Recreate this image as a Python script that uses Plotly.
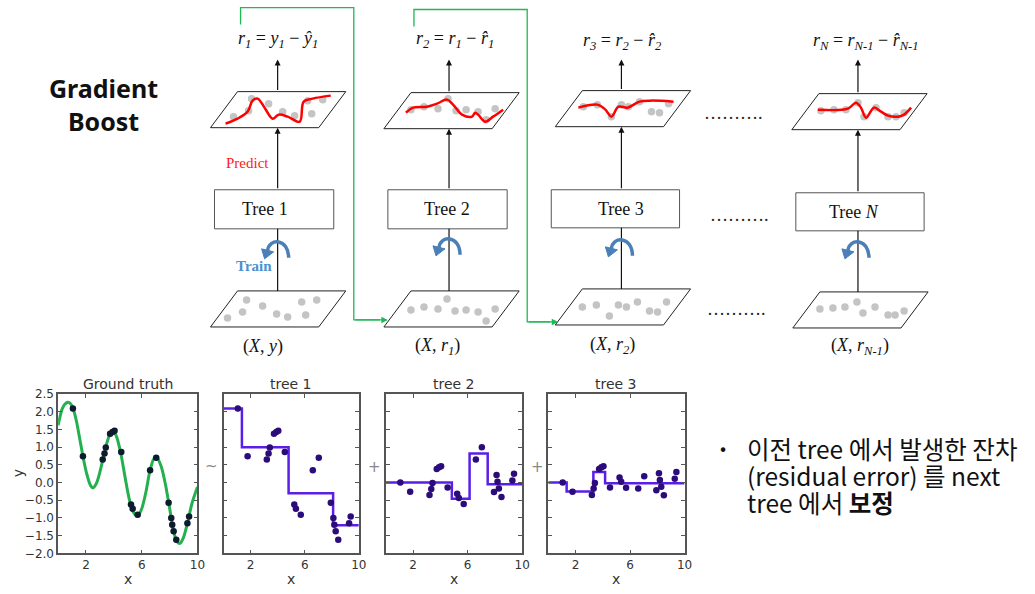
import plotly.graph_objects as go

W, H = 1035, 594

# ================= bottom panels: data =================
panel_titles = ["Ground truth", "tree 1", "tree 2", "tree 3"]
x_tick_vals = [2, 6, 10]
y_tick_vals = [-2.0, -1.5, -1.0, -0.5, 0.0, 0.5, 1.0, 1.5, 2.0, 2.5]
y_tick_text = ["\u22122.0", "\u22121.5", "\u22121.0", "\u22120.5", "0.0", "0.5", "1.0", "1.5", "2.0", "2.5"]

gt_curve_x = [0, 0.3, 0.55, 0.8, 1.05, 1.3, 1.55, 1.8, 2.05, 2.3, 2.5, 2.75, 3.0, 3.25, 3.5, 3.75,
              3.95, 4.2, 4.5, 4.8, 5.1, 5.4, 5.7, 6.0, 6.3, 6.6, 6.9, 7.1, 7.4, 7.7, 8.0, 8.3, 8.55,
              8.75, 9.0, 9.3, 9.6, 10]
gt_curve_y = [1.62, 2.09, 2.24, 2.26, 2.12, 1.76, 1.24, 0.70, 0.25, -0.06, -0.15, -0.02, 0.30, 0.72,
              1.12, 1.40, 1.48, 1.29, 0.82, 0.16, -0.46, -0.84, -0.95, -0.74, -0.27, 0.35, 0.69, 0.70,
              0.45, -0.05, -0.72, -1.40, -1.68, -1.72, -1.55, -1.12, -0.60, -0.13]

sample_x = [1.06, 1.78, 3.2, 3.33, 3.42, 3.73, 3.9, 4.05, 4.53, 5.23, 5.35, 5.71, 6.6, 7.04, 7.93,
            8.12, 8.19, 8.29, 8.48, 9.28, 9.4]
sample_y = [2.09, 0.74, 0.65, 0.82, 0.99, 1.38, 1.43, 1.46, 0.86, -0.62, -0.74, -0.91, 0.35, 0.70,
            -0.57, -1.0, -1.19, -1.38, -1.62, -1.15, -0.96]
resid1_y = [0.0, -0.26, -0.35, -0.18, -0.01, 0.38, 0.43, 0.46, -0.14, -0.32, -0.44, -0.61, 0.65, 1.0,
            -0.27, 0.21, 0.02, -0.17, -0.41, 0.06, 0.25]
resid2_y = [0.0, -0.26, -0.35, -0.17, -0.01, 0.38, 0.43, 0.46, -0.14, 0.14, 0.02, -0.15, -0.17, 0.18,
            -0.22, 0.26, 0.07, -0.12, -0.36, 0.11, 0.30]

tree1_edges = [0, 1.36, 4.81, 8.1, 10]
tree1_levels = [2.09, 1.0, -0.3, -1.21]
tree2_edges = [0, 4.84, 6.14, 7.47, 10]
tree2_levels = [0.0, -0.46, 0.82, -0.05]
tree3_edges = [0, 1.35, 3.31, 4.17, 10]
tree3_levels = [0.0, -0.25, 0.30, -0.02]

# ================= top diagram: data (pixel space) =================
column_x = [278, 449, 621, 857]
formula_text = [
    "<i>r<sub>1</sub></i> = <i>y<sub>1</sub></i> \u2212 <i>\u0177<sub>1</sub></i>",
    "<i>r<sub>2</sub></i> = <i>r<sub>1</sub></i> \u2212 <i>r\u0302<sub>1</sub></i>",
    "<i>r<sub>3</sub></i> = <i>r<sub>2</sub></i> \u2212 <i>r\u0302<sub>2</sub></i>",
    "<i>r<sub>N</sub></i> = <i>r<sub>N-1</sub></i> \u2212 <i>r\u0302<sub>N-1</sub></i>",
]
formula_x = [278, 455, 622, 865]
formula_y = [40, 40, 42, 42]
tree_text = ["Tree 1", "Tree 2", "Tree 3", "Tree <i>N</i>"]
tree_text_x = [265, 447, 621, 853]
tree_box_left = [215, 388, 551, 795]
tree_box_right = [334, 507, 679, 923]
tree_box_top = [190, 190, 190, 193]
tree_box_bottom = [229, 229, 228, 231]
input_text = ["(<i>X</i>, <i>y</i>)", "(<i>X</i>, <i>r<sub>1</sub></i>)",
              "(<i>X</i>, <i>r<sub>2</sub></i>)", "(<i>X</i>, <i>r<sub>N-1</sub></i>)"]
input_x = [263, 437, 612, 859]
input_y = [346, 346, 345, 346]
arrow_top_y = 60

plane_w, plane_skew, plane_h = 108, 27, 36
top_plane_left = [238, 411, 582, 818]
top_plane_y = [92, 93, 91, 94]
bottom_plane_left = [238, 411, 582, 819]
bottom_plane_y = [291, 291, 289, 292]

top_dots_x = [[234, 249, 252, 269, 283, 295, 308, 312, 323],
              [411, 424, 438, 448, 456, 466, 478, 486, 495],
              [583, 597, 611, 621, 628, 639, 651, 659, 668],
              [820, 833, 845, 857, 863, 875, 887, 895, 903]]
top_dots_y = [[117, 111, 99, 104, 112, 116, 101, 114, 100],
              [110, 107, 109, 99, 111, 110, 112, 120, 109],
              [107, 105, 117, 105, 107, 102, 112, 113, 104],
              [111, 110, 110, 103, 117, 108, 117, 117, 113]]
red_x = [[226, 238, 248, 253, 258, 265, 273, 279, 288, 300, 304, 313, 331],
         [406, 413, 427, 437, 447, 453, 462, 472, 475, 478, 485, 493, 503],
         [578, 597, 605, 611, 618, 627, 639, 650, 673],
         [817, 847, 855, 860, 865, 873, 880, 887, 897, 903, 910]]
red_y = [[124, 119, 112, 101, 99, 108, 119, 115, 117, 122, 102, 99, 96],
         [113, 108, 107, 104, 100, 105, 115, 117, 113, 115, 122, 117, 110],
         [108, 105, 110, 117, 107, 108, 102, 101, 102],
         [110, 109, 103, 108, 118, 108, 112, 116, 117, 115, 108]]
bottom_dots_x = [[228, 243, 247, 263, 277, 288, 302, 306, 317],
                 [411, 424, 438, 447, 455, 466, 478, 486, 495],
                 [582, 596, 609, 618, 626, 637, 649, 657, 666],
                 [819, 832, 844, 856, 862, 874, 887, 894, 903]]
bottom_dots_y = [[318, 312, 300, 306, 314, 317, 302, 315, 300],
                 [310, 307, 309, 299, 311, 310, 312, 321, 309],
                 [307, 305, 316, 305, 307, 302, 311, 312, 302],
                 [309, 308, 307, 302, 313, 307, 315, 315, 311]]
train_arrow_y = [250, 247, 248, 250]

green_path_x = [[241, 241, 354, 354, 380], [414, 414, 527, 527, 550]]
green_path_y = [[25, 8, 8, 320, 320], [27, 10, 10, 322, 322]]
green_tip_x = [388, 558]

ellipsis_x = [733, 739, 736]
ellipsis_y = [113, 215, 309]

bullet_lines = ["이전 tree 에서 발생한 잔차", "(residual error) 를 next", "tree 에서 <b>보정</b>"]
bullet_line_y = [448, 475, 502]

sub_domains_px = [(59, 198), (224, 359), (386, 522), (548, 684)]
sub_top_px, sub_bottom_px = 394, 553

# observed mapping of the rendered page: picture = scale * figure + offset
CAL_AX, CAL_BX = 0.99, 1.0
CAL_AY, CAL_BY = 0.975, 7.5


def paper_x(p):
    return ((p - CAL_BX) / CAL_AX) / W


def paper_y(p):
    return 1 - ((p - CAL_BY) / CAL_AY) / H


# ================= build figure =================
fig = go.Figure()

PX = dict(xaxis="x5", yaxis="y5")
dark_dot = "#0d1b2e"
tree_dot = "#2b0c7a"
step_color = "#5a1ee8"
green = "#24b04f"

fig.add_trace(go.Scatter(x=gt_curve_x, y=gt_curve_y, mode="lines",
                         line=dict(color=green, width=3, shape="spline", smoothing=0.8),
                         xaxis="x", yaxis="y", hoverinfo="skip"))
fig.add_trace(go.Scatter(x=sample_x, y=sample_y, mode="markers", marker=dict(color=dark_dot, size=6.5),
                         xaxis="x", yaxis="y", hoverinfo="skip"))

for edges, levels, pts, ax in [(tree1_edges, tree1_levels, sample_y, "2"),
                               (tree2_edges, tree2_levels, resid1_y, "3"),
                               (tree3_edges, tree3_levels, resid2_y, "4")]:
    fig.add_trace(go.Scatter(x=edges, y=levels + [levels[-1]], mode="lines",
                             line=dict(color=step_color, width=2.5, shape="hv"),
                             xaxis="x" + ax, yaxis="y" + ax, hoverinfo="skip"))
    fig.add_trace(go.Scatter(x=sample_x, y=pts, mode="markers", marker=dict(color=tree_dot, size=6.5),
                             xaxis="x" + ax, yaxis="y" + ax, hoverinfo="skip"))

axis_common = dict(showline=True, linecolor="#555", linewidth=1.5, mirror="ticks", ticks="inside",
                   ticklen=4, tickcolor="#555", showgrid=False, zeroline=False, fixedrange=True,
                   tickfont=dict(family="DejaVu Sans", size=12, color="#333"))
layout_axes = {}
for i, (l, r) in enumerate(sub_domains_px):
    n = "" if i == 0 else str(i + 1)
    layout_axes["xaxis" + n] = dict(axis_common, domain=[paper_x(l), paper_x(r)], range=[0, 10],
                                    tickvals=x_tick_vals, anchor="y" + n)
    layout_axes["yaxis" + n] = dict(axis_common, domain=[paper_y(sub_bottom_px), paper_y(sub_top_px)],
                                    range=[-2.0, 2.5], tickvals=y_tick_vals, ticktext=y_tick_text,
                                    showticklabels=(i == 0), anchor="x" + n)
layout_axes["xaxis5"] = dict(domain=[0, 1], range=[CAL_BX, CAL_BX + CAL_AX * W], visible=False,
                             fixedrange=True, anchor="y5")
layout_axes["yaxis5"] = dict(domain=[0, 1], range=[CAL_BY + CAL_AY * H, CAL_BY], visible=False,
                             fixedrange=True, anchor="x5")

for c in range(4):
    for left, ty, dx, dy in [(top_plane_left[c], top_plane_y[c], top_dots_x[c], top_dots_y[c]),
                             (bottom_plane_left[c], bottom_plane_y[c], bottom_dots_x[c], bottom_dots_y[c])]:
        px_ = [left, left + plane_w, left + plane_w - plane_skew, left - plane_skew, left]
        py_ = [ty, ty, ty + plane_h, ty + plane_h, ty]
        fig.add_trace(go.Scatter(x=px_, y=py_, mode="lines", fill="toself", fillcolor="white",
                                 line=dict(color="#222", width=1), hoverinfo="skip", **PX))
        fig.add_trace(go.Scatter(x=dx, y=dy, mode="markers", marker=dict(color="#c4c4c4", size=7.5),
                                 hoverinfo="skip", **PX))
    fig.add_trace(go.Scatter(x=red_x[c], y=red_y[c], mode="lines",
                             line=dict(color="#ff0000", width=2.5, shape="spline"), hoverinfo="skip", **PX))

for gx, gy in zip(green_path_x, green_path_y):
    fig.add_trace(go.Scatter(x=gx, y=gy, mode="lines", line=dict(color="#1db954", width=1.3),
                             hoverinfo="skip", **PX))

shapes = []
annotations = []


def arrow(x0, y0, x1, y1, color="#111", width=1.2, size=1.0):
    annotations.append(dict(x=x1, y=y1, ax=x0, ay=y0, xref="x5", yref="y5", axref="x5", ayref="y5",
                            text="", showarrow=True, arrowhead=2, arrowsize=size, arrowwidth=width,
                            arrowcolor=color))


def label(x, y, text, size=16, color="#111", family="Liberation Serif", **kw):
    annotations.append(dict(x=x, y=y, xref="x5", yref="y5", text=text, showarrow=False,
                            font=dict(family=family, size=size, color=color), **kw))


for c in range(4):
    cx = column_x[c]
    shapes.append(dict(type="rect", xref="x5", yref="y5", x0=tree_box_left[c], x1=tree_box_right[c],
                       y0=tree_box_top[c], y1=tree_box_bottom[c], line=dict(color="#555", width=1),
                       fillcolor="white", layer="above"))
    label(tree_text_x[c], (tree_box_top[c] + tree_box_bottom[c]) / 2, tree_text[c], size=18)
    shapes.append(dict(type="line", xref="x5", yref="y5", x0=cx, x1=cx, y0=bottom_plane_y[c],
                       y1=tree_box_bottom[c], line=dict(color="#111", width=1.2)))
    arrow(cx, tree_box_top[c], cx, top_plane_y[c] + plane_h)
    arrow(cx, top_plane_y[c], cx, arrow_top_y)
    label(formula_x[c], formula_y[c], formula_text[c], size=18)
    label(input_x[c], input_y[c], input_text[c], size=18)
    ty = train_arrow_y[c]
    shapes.append(dict(type="path", xref="x5", yref="y5",
                       path=f"M {cx+11},{ty+8} C {cx+11},{ty-12} {cx-9},{ty-12} {cx-10},{ty+1}",
                       line=dict(color="#4a7fb8", width=3.5)))
    shapes.append(dict(type="path", xref="x5", yref="y5",
                       path=f"M {cx-16},{ty-1} L {cx-4},{ty+2} L {cx-13},{ty+9} Z",
                       line=dict(color="#4a7fb8", width=1), fillcolor="#4a7fb8"))

for gx, gy, tip in zip(green_path_x, green_path_y, green_tip_x):
    arrow(gx[-2], gy[-1], tip, gy[-1], color="#1db954", width=1.3, size=1.0)

label(248, 163, "Predict", size=15, color="#ff1a1a")
label(254, 266, "<b>Train</b>", size=15, color="#4a90d0")
for ex, ey in zip(ellipsis_x, ellipsis_y):
    label(ex, ey, "\u2026\u2026\u2026.", size=18, color="#222")

label(104, 105, "<b>Gradient<br>Boost</b>", size=25, color="#111", family="Noto Sans")

for i, (l, r) in enumerate(sub_domains_px):
    label((l + r) / 2, 384, panel_titles[i], size=14, color="#333", family="DejaVu Sans")
    label((l + r) / 2, 579, "x", size=14, color="#333", family="DejaVu Sans")
label(19, 473, "y", size=14, color="#333", family="DejaVu Sans", textangle=-90)
label(212, 466, "~", size=15, color="#888", family="DejaVu Sans")
label(375, 467, "+", size=15, color="#888", family="DejaVu Sans")
label(537, 467, "+", size=15, color="#888", family="DejaVu Sans")

label(722, 447, "\u2022", size=18, color="#111", family="Noto Sans CJK KR")
for t, ly in zip(bullet_lines, bullet_line_y):
    label(744, ly, t, size=24.5, color="#111", family="Noto Sans CJK KR", xanchor="left", align="left")

fig.update_layout(width=W, height=H, margin=dict(l=0, r=0, t=0, b=0), showlegend=False,
                  paper_bgcolor="white", plot_bgcolor="rgba(0,0,0,0)",
                  shapes=shapes, annotations=annotations, **layout_axes)

page_fix = (
    "var s=document.createElement('style');"
    "s.innerHTML='html,body{margin:0;padding:0;overflow:hidden;}';"
    "document.head.appendChild(s);"
    "var d=document.getElementById('{plot_id}');"
    "d.style.position='fixed';d.style.left='0px';d.style.top='0px';"
)
fig.write_html("out.html", config={"displayModeBar": False}, post_script=page_fix)
